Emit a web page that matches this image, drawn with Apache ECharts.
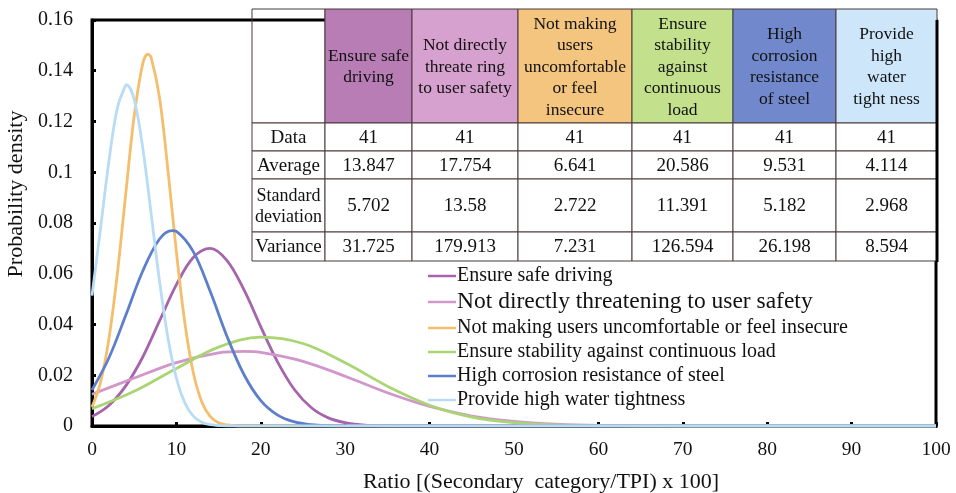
<!DOCTYPE html>
<html>
<head>
<meta charset="utf-8">
<script src="https://cdn.jsdelivr.net/npm/echarts@6/dist/echarts.min.js"></script>
<style>
html,body{margin:0;padding:0;background:#fff;}
#chart{width:956px;height:493px;}
</style>
</head>
<body>
<div id="chart"></div>
<script>
// ---- data ----
var seriesNames = [
  'Ensure safe driving',
  'Not directly threatening to user safety',
  'Not making users uncomfortable or feel insecure',
  'Ensure stability against continuous load',
  'High corrosion resistance of steel',
  'Provide high water tightness'
];
var lineColors = ['#A564AC', '#D196CA', '#F4BE6C', '#AAD573', '#5D7FCB', '#B9DCF6'];

var xSafe = [0, 2, 4, 6, 8, 10, 12, 14, 16, 18, 20, 22, 24, 26, 28, 30, 32, 34, 36, 40, 100];
var ySafe = [0.0037, 0.0081, 0.0158, 0.0271, 0.0414, 0.0557, 0.0664, 0.0700, 0.0652, 0.0537, 0.0391, 0.0252, 0.0143, 0.0072, 0.0032, 0.0013, 0.0004, 0.0001, 0.0000, 0, 0];

var xThreat = [0, 5, 10, 15, 18, 20, 25, 30, 35, 40, 45, 50, 55, 60, 65, 70, 80, 100];
var yThreat = [0.0125, 0.0189, 0.0250, 0.0288, 0.0294, 0.0290, 0.0255, 0.0196, 0.0131, 0.0077, 0.0039, 0.0018, 0.0007, 0.0002, 0.0001, 0.0000, 0, 0];

var xComfort = [0, 1, 2, 3, 4, 5, 6, 6.6, 7, 8, 9, 10, 11, 12, 13, 14, 15, 16, 17, 18, 20, 100];
var yComfort = [0.0075, 0.0171, 0.0343, 0.0599, 0.0916, 0.1222, 0.1426, 0.1465, 0.1453, 0.1294, 0.1007, 0.0685, 0.0407, 0.0211, 0.0096, 0.0038, 0.0013, 0.0004, 0.0001, 0.0000, 0, 0];

var xLoad = [0, 5, 10, 15, 20, 25, 30, 35, 40, 45, 50, 55, 60, 65, 70, 100];
var yLoad = [0.0068, 0.0137, 0.0227, 0.0311, 0.0350, 0.0325, 0.0249, 0.0157, 0.0082, 0.0035, 0.0013, 0.0004, 0.0001, 0.0000, 0, 0];

var xSteel = [0, 2, 4, 6, 8, 9.5, 10, 12, 14, 16, 18, 20, 22, 24, 26, 28, 30, 35, 100];
var ySteel = [0.0142, 0.0268, 0.0436, 0.0610, 0.0737, 0.0770, 0.0767, 0.0687, 0.0531, 0.0353, 0.0203, 0.0100, 0.0043, 0.0016, 0.0005, 0.0001, 0.0000, 0, 0];

var xWater = [0, 1, 2, 3, 4, 4.1, 5, 6, 7, 8, 9, 10, 11, 12, 13, 14, 15, 16, 18, 100];
var yWater = [0.0514, 0.0775, 0.1043, 0.1253, 0.1343, 0.1344, 0.1286, 0.1099, 0.0838, 0.0571, 0.0347, 0.0188, 0.0091, 0.0039, 0.0015, 0.0005, 0.0002, 0.0000, 0, 0];

var xTicks = [0, 10, 20, 30, 40, 50, 60, 70, 80, 90, 100];
var yTicks = [0, 0.02, 0.04, 0.06, 0.08, 0.1, 0.12, 0.14, 0.16];

// table
var tableHeaders = [
  'Ensure safe\ndriving',
  'Not directly\nthreate ring\nto user safety',
  'Not making\nusers\nuncomfortable\nor feel\ninsecure',
  'Ensure\nstability\nagainst\ncontinuous\nload',
  'High\ncorrosion\nresistance\nof steel',
  'Provide\nhigh\nwater\ntight ness'
];
var headerColors = ['#B77DB4', '#D6A0CF', '#F4C57E', '#C3E08C', '#7189CC', '#CDE6FA'];
var rowLabels = ['Data', 'Average', 'Standard\ndeviation', 'Variance'];
var rowData = ['41', '41', '41', '41', '41', '41'];
var rowAverage = ['13.847', '17.754', '6.641', '20.586', '9.531', '4.114'];
var rowStd = ['5.702', '13.58', '2.722', '11.391', '5.182', '2.968'];
var rowVariance = ['31.725', '179.913', '7.231', '126.594', '26.198', '8.594'];

// ---- chart ----
var FONT = '"Liberation Serif", "Times New Roman", serif';
var chart = echarts.init(document.getElementById('chart'));

function pairs(xs, ys) { return xs.map(function (x, i) { return [x, ys[i]]; }); }
var dataSets = [pairs(xSafe, ySafe), pairs(xThreat, yThreat), pairs(xComfort, yComfort),
                pairs(xLoad, yLoad), pairs(xSteel, ySteel), pairs(xWater, yWater)];

var series = seriesNames.map(function (n, i) {
  return {
    name: n, type: 'line', data: dataSets[i], smooth: 0.35,
    showSymbol: false, symbol: 'none',
    lineStyle: { color: lineColors[i], width: 2.8 },
    itemStyle: { color: lineColors[i] },
    z: 2 + i
  };
});

// table graphic
var colX = [252, 325, 412, 518, 632, 733, 836, 937];
var rowY = [9, 123, 151, 179, 232, 261];
var els = [];
var stroke = '#4a3a3a';
function cell(x0, x1, y0, y1, fill, text, fs, lh) {
  els.push({ type: 'rect', shape: { x: x0, y: y0, width: x1 - x0, height: y1 - y0 },
    style: { fill: fill, stroke: stroke, lineWidth: 1 }, z: 100 });
  if (text) {
    els.push({ type: 'text', x: (x0 + x1) / 2, y: (y0 + y1) / 2 + 1,
      style: { text: text, font: fs + 'px ' + FONT, fill: '#111', align: 'center',
               verticalAlign: 'middle', lineHeight: lh }, z: 101 });
  }
}
cell(colX[0], colX[1], rowY[0], rowY[1], 'rgba(0,0,0,0)', '', 17, 20);
for (var c = 0; c < 6; c++) {
  cell(colX[c + 1], colX[c + 2], rowY[0], rowY[1], headerColors[c], tableHeaders[c], 17.5, 21.5);
}
var rows = [rowData, rowAverage, rowStd, rowVariance];
for (var r = 0; r < 4; r++) {
  cell(colX[0], colX[1], rowY[r + 1], rowY[r + 2], '#fff', rowLabels[r], r === 2 ? 18 : 19, 21);
  for (var c2 = 0; c2 < 6; c2++) {
    cell(colX[c2 + 1], colX[c2 + 2], rowY[r + 1], rowY[r + 2], '#fff', rows[r][c2], 19, 21);
  }
}
els.push({ type: 'line', shape: { x1: 937, y1: 20, x2: 937, y2: 262 },
  style: { stroke: '#000', lineWidth: 3 }, z: 102 });

var option = {
  backgroundColor: '#fff',
  animation: false,
  grid: { left: 92, right: 20, top: 20, bottom: 67, show: true, borderColor: '#000', borderWidth: 3,
          containLabel: false, outerBoundsMode: 'none' },
  legend: {
    orient: 'vertical', left: 423, top: 261, itemGap: 4,
    icon: 'rect', itemWidth: 28, itemHeight: 2.5,
    textStyle: { fontFamily: FONT, fontSize: 20, color: '#111', padding: [0, 0, 0, -4] },
    data: seriesNames.map(function (n, i) {
      return i === 1 ? { name: n, textStyle: { fontSize: 23.5 } } : { name: n };
    })
  },
  xAxis: {
    type: 'value', min: 0, max: 100, interval: 10,
    name: 'Ratio [(Secondary  category/TPI) x 100]', nameLocation: 'middle', nameGap: 45,
    nameTextStyle: { fontFamily: FONT, fontSize: 22, color: '#111', padding: [0, 0, 0, 54] },
    axisLine: { show: true, lineStyle: { color: '#000', width: 3 } },
    axisTick: { show: true, inside: true, length: 4, lineStyle: { color: '#000', width: 3 } },
    axisLabel: { fontFamily: FONT, fontSize: 19.5, color: '#111', margin: 14,
      formatter: function (v) { return xTicks.indexOf(v) >= 0 ? String(v) : ''; } },
    splitLine: { show: false }
  },
  yAxis: {
    type: 'value', min: 0, max: 0.16, interval: 0.02,
    name: 'Probability density', nameLocation: 'middle', nameGap: 64,
    nameTextStyle: { fontFamily: FONT, fontSize: 22, color: '#111', padding: [0, 0, 0, 58] },
    axisLine: { show: true, lineStyle: { color: '#000', width: 3 } },
    axisTick: { show: true, inside: true, length: 4, lineStyle: { color: '#000', width: 3 } },
    axisLabel: { fontFamily: FONT, fontSize: 20, color: '#111', margin: 19,
      formatter: function (v) {
        for (var k = 0; k < yTicks.length; k++) { if (Math.abs(yTicks[k] - v) < 1e-9) return String(yTicks[k]); }
        return '';
      } },
    splitLine: { show: false }
  },
  graphic: { elements: els },
  series: series
};
chart.setOption(option);
</script>
</body>
</html>
